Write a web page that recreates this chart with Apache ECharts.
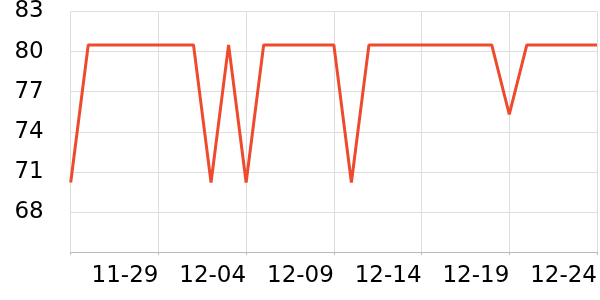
<!DOCTYPE html>
<html>
<head>
<meta charset="utf-8">
<script src="https://cdn.jsdelivr.net/npm/echarts@6/dist/echarts.min.js"></script>
<style>html,body{margin:0;padding:0;background:#fff}#c{width:600px;height:300px}</style>
</head>
<body>
<div id="c"></div>
<script>
var categories = ['11-24','11-25','11-26','11-27','11-28','11-29','11-30','12-01','12-02','12-03',
  '12-04','12-05','12-06','12-07','12-08','12-09','12-10','12-11','12-12','12-13',
  '12-14','12-15','12-16','12-17','12-18','12-19','12-20','12-21','12-22','12-23','12-24'];
var values = [70.2,80.5,80.5,80.5,80.5,80.5,80.5,80.5,70.2,80.5,
  70.2,80.5,80.5,80.5,80.5,80.5,70.2,80.5,80.5,80.5,
  80.5,80.5,80.5,80.5,80.5,75.3,80.5,80.5,80.5,80.5,80.5];
var yTicks = [65,68,71,74,77,80,83];

var chart = echarts.init(document.getElementById('c'), null, {renderer:'canvas'});
chart.setOption({
  animation:false,
  grid:{left:70.7, right:0, top:11, bottom:48, containLabel:false},
  xAxis:{
    type:'category', boundaryGap:false, data:categories,
    axisLine:{show:true, lineStyle:{color:'#bbbbbb', width:1}},
    axisTick:{show:true, interval:function(i){return i%5===0;}, length:3, lineStyle:{color:'#bbbbbb'}},
    axisLabel:{interval:function(i){return i%5===0 && i>0;}, align:'right', fontSize:23,
      fontFamily:'DejaVu Sans', color:'#000', margin:13},
    splitLine:{show:true, interval:function(i){return i%5===0;}, lineStyle:{color:'#dddddd', width:1}}
  },
  yAxis:{
    type:'value', min:yTicks[0], max:yTicks[yTicks.length-1], interval:3,
    axisLine:{show:false}, axisTick:{show:false},
    axisLabel:{showMinLabel:false, fontSize:23, fontFamily:'DejaVu Sans', color:'#000', margin:27},
    splitLine:{show:true, lineStyle:{color:'#dddddd', width:1}}
  },
  series:[{
    type:'line', data:values, showSymbol:false, symbol:'none',
    lineStyle:{color:'#EE4A2E', width:3}, itemStyle:{color:'#EE4A2E'}
  }]
});
</script>
</body>
</html>
